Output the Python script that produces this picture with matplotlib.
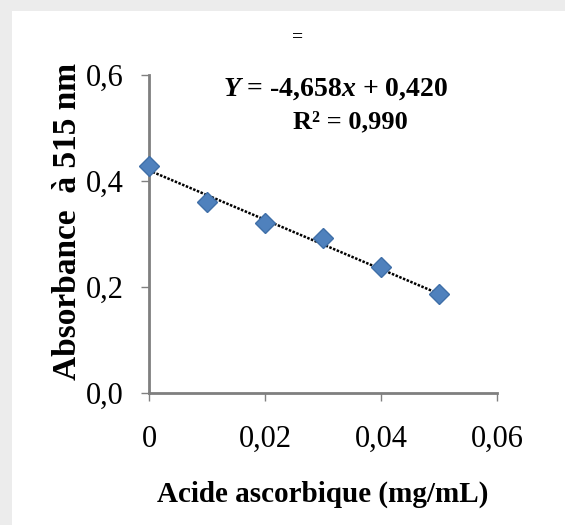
import matplotlib.pyplot as plt
import matplotlib.patches as mpatches

conc = [0, 0.01, 0.02, 0.03, 0.04, 0.05]
absorb = [0.428, 0.360, 0.321, 0.292, 0.238, 0.187]
pente = -4.658
ordonnee = 0.420
xticks = [0, 0.02, 0.04, 0.06]
xlabels = ['0', '0,02', '0,04', '0,06']
yticks = [0.0, 0.2, 0.4, 0.6]
ylabels = ['0,0', '0,2', '0,4', '0,6']

plt.rcParams['font.family'] = 'Liberation Serif'
plt.rcParams['mathtext.fontset'] = 'custom'
plt.rcParams['mathtext.rm'] = 'Liberation Serif:bold'
plt.rcParams['mathtext.it'] = 'Liberation Serif:italic:bold'

fig = plt.figure(figsize=(5.65, 5.25), dpi=100)
fig.patch.set_facecolor('#ececec')
# panneau blanc (bordure grise en haut et à gauche)
fig.patches.append(mpatches.Rectangle((12 / 565, 0), 1, 1 - 11 / 525,
                                      transform=fig.transFigure,
                                      facecolor='white', edgecolor='none', zorder=-5))

ax = fig.add_axes([149 / 565, 132 / 525, 348 / 565, 318 / 525])
ax.set_facecolor('none')

# droite de tendance
x_fit = [conc[0], conc[-1]]
y_fit = [pente * v + ordonnee for v in x_fit]
ax.plot(x_fit, y_fit, color='black', lw=1.8, ls=(0, (1, 0.6)), zorder=2)
ax.plot(conc, absorb, ls='none', marker='D', ms=10, color='#4f81bd',
        markeredgecolor='#3f6fa8', zorder=3, clip_on=False)

ax.set_xlim(0, 0.06)
ax.set_ylim(0, 0.6)
ax.set_xticks(xticks)
ax.set_xticklabels(xlabels)
ax.set_yticks(yticks)
ax.set_yticklabels(ylabels)
ax.tick_params(labelsize=22, length=6, width=1, color='#808080')
ax.tick_params(axis='x', pad=17)
ax.tick_params(axis='y', pad=12)

for s in ['top', 'right']:
    ax.spines[s].set_visible(False)
for s in ['left', 'bottom']:
    ax.spines[s].set_color('#7f7f7f')
    ax.spines[s].set_linewidth(2)

ax.set_xlabel('Acide ascorbique (mg/mL)', fontsize=21, fontweight='bold')
ax.xaxis.set_label_coords(0.5, -0.275)
ax.set_ylabel('Absorbance  à 515 nm', fontsize=24, fontweight='bold')
ax.yaxis.set_label_coords(-0.19, 0.54)

fig.text(298 / 565, 1 - 37 / 525, '=', fontsize=14, fontweight='bold',
         ha='center', va='center')
fig.text(336 / 565, 1 - 89 / 525, r'$Y$ = -4,658$x$ + 0,420', fontsize=20,
         fontweight='bold', ha='center', va='center')
fig.text(350 / 565, 1 - 122 / 525, 'R² = 0,990', fontsize=19,
         fontweight='bold', ha='center', va='center')

plt.savefig('out.png', dpi=100, facecolor=fig.get_facecolor())
